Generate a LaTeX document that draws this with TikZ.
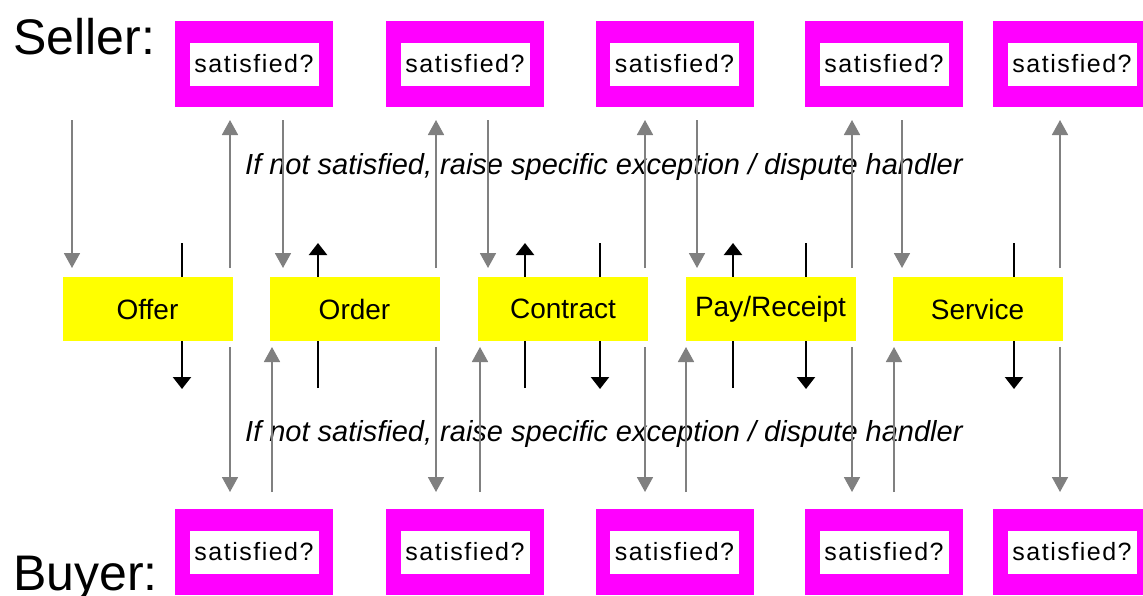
\documentclass[tikz,border=0pt]{standalone}
\usepackage{fontspec}
\setmainfont{Liberation Sans}
\usetikzlibrary{arrows.meta}
\definecolor{boxmag}{RGB}{255,0,255}
\definecolor{stepyellow}{RGB}{255,255,0}
\definecolor{flowgray}{RGB}{128,128,128}
\begin{document}
\begin{tikzpicture}[x=1pt,y=-1pt,
  checkouter/.style={fill=boxmag, minimum width=158pt, minimum height=86pt, inner sep=0pt},
  checkinner/.style={fill=white, minimum width=129pt, minimum height=43pt, inner sep=0pt,
    font=\fontsize{25}{30}\selectfont\addfontfeature{LetterSpace=6}},
  stepbox/.style={fill=stepyellow, minimum width=170pt, minimum height=64pt, inner sep=0pt,
    font=\fontsize{28}{34}\selectfont},
  feedback/.style={draw=flowgray, line width=1.8pt, -{Triangle[width=16pt,length=15pt]}},
  handoff/.style={draw=black, line width=2.2pt, -{Triangle[width=18pt,length=12pt]}},
  note/.style={anchor=base west, inner sep=0pt, font=\fontsize{29}{34}\selectfont\itshape},
  role/.style={anchor=base west, inner sep=0pt, font=\fontsize{50}{60}\selectfont}]

\useasboundingbox (0,0) rectangle (1143,595);
\clip (0,0) rectangle (1143,595);

% party labels
\node[role] (seller) at (13,54) {Seller:};
\node[role] (buyer) at (13,590) {Buyer:};

% exception notes
\node[note] (notetop) at (245,174) {If not satisfied, raise specific exception / dispute handler};
\node[note] (notebot) at (245,441) {If not satisfied, raise specific exception / dispute handler};

% satisfaction checks of seller (top) and buyer (bottom)
\foreach \i/\x in {1/254,2/465,3/674.5,4/884,5/1072} {
  \node[checkouter] (sout\i) at (\x,64) {};
  \node[checkinner] (sin\i) at (sout\i.center) {satisfied?};
  \node[checkouter] (bout\i) at (\x,552) {};
  \node[checkinner] (bin\i) at (bout\i.center) {satisfied?};
}

% hand-offs between steps (drawn below the step boxes)
\foreach \n/\x/\ya/\yb in {1/182/243/389, 2/318/388/243, 3/525/388/243, 4/600/243/389,
                            5/733/388/243, 6/806/243/389, 7/1014/243/389} {
  \coordinate (hs\n) at (\x,\ya);
  \coordinate (he\n) at (\x,\yb);
  \draw[handoff] (hs\n) -- (he\n);
}

% process steps
\node[stepbox] (offer)    at (147.5,309) {Offer};
\node[stepbox] (order)    at (354.5,309) {Order};
\node[stepbox] (contract) at (563,309)   {Contract};
\node[stepbox] (pay)      at (770.5,309) {Pay/Receipt};
\node[stepbox] (service)  at (977.5,309) {Service};

% seller side: step in, check back
\foreach \n/\x in {1/72,2/283,3/488,4/697,5/902} {
  \coordinate (sd\n) at (\x,120);
  \coordinate (se\n) at (\x,268);
  \draw[feedback] (sd\n) -- (se\n);
}
\foreach \n/\x in {1/230,2/436,3/645,4/852,5/1060} {
  \coordinate (su\n) at (\x,268);
  \coordinate (sv\n) at (\x,120);
  \draw[feedback] (su\n) -- (sv\n);
}

% buyer side: check down, step back up
\foreach \n/\x in {1/230,2/436,3/645,4/852,5/1060} {
  \coordinate (bd\n) at (\x,347);
  \coordinate (be\n) at (\x,492);
  \draw[feedback] (bd\n) -- (be\n);
}
\foreach \n/\x in {1/272,2/480,3/686,4/894} {
  \coordinate (bu\n) at (\x,492);
  \coordinate (bv\n) at (\x,347);
  \draw[feedback] (bu\n) -- (bv\n);
}
\end{tikzpicture}
\end{document}
